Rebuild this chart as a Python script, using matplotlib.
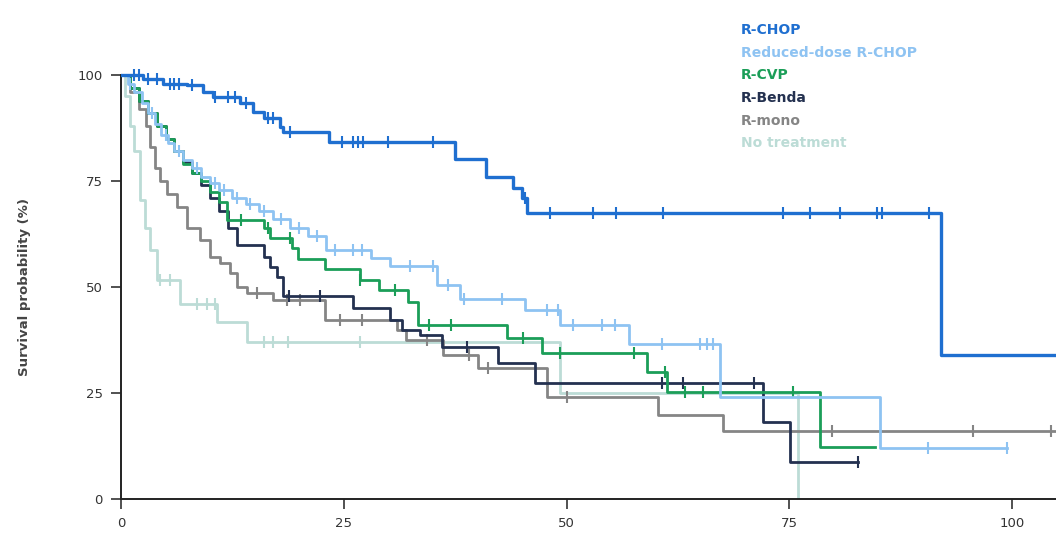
import numpy as np
import matplotlib
matplotlib.use("Agg")
import matplotlib.pyplot as plt

# group names and colours
groups = ["R-CHOP", "Reduced-dose R-CHOP", "R-CVP", "R-Benda", "R-mono", "No treatment"]
colors = ["#1f6fd0", "#8ec3f2", "#1b9e58", "#243150", "#858585", "#bcdcd6"]

# step times (months) and survival (%)
rchop_t = [0, 2.5, 4.7, 7.4, 9.2, 10.3, 13.4, 14.8, 16.0, 17.8, 18.2, 23.3, 37.5, 40.9, 44.0, 45.0, 45.6, 92.0]
rchop_s = [100, 99, 98, 97.6, 96, 94.8, 93.4, 91.3, 89.8, 87.7, 86.6, 84.2, 80.2, 76, 73.3, 71, 67.4, 34]
rchop_end = 105
rchop_cens = [1.5, 2.0, 3.0, 4.0, 5.5, 6.0, 6.5, 8.0, 10.5, 12.0, 12.8, 14.0, 16.5, 17.0, 19.0,
              24.8, 26.0, 26.6, 27.2, 30.0, 35.0, 45.3, 48.1, 52.9, 55.5, 60.8,
              74.3, 77.3, 80.7, 84.8, 85.4, 90.6]

rd_t = [0, 0.8, 1.5, 2.3, 3.0, 3.8, 4.5, 5.3, 6.0, 7.0, 8.0, 9.0, 10.0, 11.0, 12.5, 14.0, 15.5,
        17.0, 19.0, 21.0, 23.0, 28.0, 30.2, 35.5, 38.0, 45.3, 49.2, 57.0, 67.2, 85.2]
rd_s = [100, 98, 96, 93.5, 91, 88.5, 86, 84, 82, 80, 78, 76, 74.5, 73, 71, 69.5, 68,
        66, 64, 62, 58.7, 56.8, 55, 50.5, 47.2, 44.6, 41, 36.6, 24, 12]
rd_end = 99.4
rd_cens = [1, 3.5, 5, 6.5, 8.5, 10.5, 11.5, 13, 14.5, 16, 18, 20, 22, 24, 26, 27, 32.4, 35,
           36.7, 38.5, 42.8, 47.8, 49, 50.7, 54, 55.4, 60.7, 65, 65.8, 66.4, 90.5, 99.4]

cvp_t = [0, 1, 2, 3, 4, 5, 6, 7, 8, 9, 10, 11, 11.9, 16, 16.7, 19.2, 19.9, 22.9, 26.8, 29,
         32.2, 33.3, 43.3, 47.2, 59, 61.3, 78.4]
cvp_s = [100, 97, 94, 91, 88, 85, 82, 79, 77, 75, 72.5, 70, 65.8, 63.9, 61.6, 59.2, 56.6, 54.2,
         51.7, 49.3, 46.5, 41, 38, 34.4, 30, 25.2, 12.3]
cvp_end = 84.6
cvp_cens = [13.5, 16.5, 19.0, 26.8, 30.7, 34.5, 37.0, 45.1, 49.3, 57.5, 61.0, 63.3, 65.3, 75.4]

benda_t = [0, 1, 2, 3, 4, 5, 6, 7, 8, 9, 10, 11, 12, 13, 16, 16.7, 17.5, 18.2, 26, 30.2, 31.5,
           33.5, 36, 42.3, 46.5, 72, 75.1]
benda_s = [100, 97, 94, 91, 88, 85, 82, 79.5, 77, 74, 71, 68, 64, 60, 57, 54.7, 52.4, 48, 45,
           42.2, 39.9, 38.7, 35.8, 32, 27.3, 18.2, 8.7]
benda_end = 82.7
benda_cens = [18.8, 22.3, 38.8, 60.7, 63.0, 71.0, 82.7]

mono_t = [0, 1, 2, 2.8, 3.3, 3.8, 4.4, 5.2, 6.3, 7.4, 8.9, 10.0, 11.1, 12.2, 13.0, 14.1, 17.0,
          22.9, 31.0, 32.0, 36.1, 40.0, 47.8, 60.3, 67.5]
mono_s = [100, 96, 92, 88, 83, 78, 75, 72, 69, 64, 61, 57, 55.7, 53.3, 50, 48.6, 47, 42.2,
          39.9, 37.5, 34, 30.9, 24, 19.8, 16]
mono_end = 105
mono_cens = [15.3, 18.6, 20.1, 24.6, 27.0, 34.3, 39.0, 41.2, 50.0, 79.8, 95.6, 104.3]

none_t = [0, 0.5, 1.0, 1.5, 2.1, 2.7, 3.3, 4.0, 6.6, 10.8, 14.1, 49.3, 75.9]
none_s = [100, 95, 88, 82, 70.5, 64, 58.7, 51.7, 46, 41.7, 37, 25, 0]
none_end = 75.9
none_cens = [4.4, 5.5, 8.5, 9.7, 10.5, 16.0, 17.0, 18.7, 26.8]

curves = [
    (rchop_t, rchop_s, rchop_end, rchop_cens),
    (rd_t, rd_s, rd_end, rd_cens),
    (cvp_t, cvp_s, cvp_end, cvp_cens),
    (benda_t, benda_s, benda_end, benda_cens),
    (mono_t, mono_s, mono_end, mono_cens),
    (none_t, none_s, none_end, none_cens),
]

fig = plt.figure(figsize=(10.56, 5.43), dpi=100)
ax = fig.add_axes([121 / 1056, 44 / 543, 1 - 121 / 1056, 445 / 543])

# draw back to front so R-CHOP sits on top
order = [5, 4, 3, 2, 1, 0]
for i in order:
    t, s, end, cens = curves[i]
    tt = list(t) + [end]
    ss = list(s) + [s[-1]]
    lw = 2.4 if i == 0 else 2.0
    ax.step(tt, ss, where="post", color=colors[i], lw=lw, zorder=2 + (5 - i))
    idx = np.searchsorted(np.array(t), np.array(cens), side="right") - 1
    cy = np.array(s)[idx]
    ax.plot(cens, cy, ls="none", marker="|", ms=8, mew=1.5, color=colors[i], zorder=2 + (5 - i))

ax.set_xlim(0, 104.9)
ax.set_ylim(0, 105)
ax.set_xticks([0, 25, 50, 75, 100])
ax.set_yticks([0, 25, 50, 75, 100])
ax.tick_params(direction="out", length=7, width=1.2, colors="#333333", labelsize=9.5, pad=6)
for sp in ["top", "right"]:
    ax.spines[sp].set_visible(False)
ax.spines["left"].set_bounds(0, 100)
ax.spines["left"].set_linewidth(1.4)
ax.spines["bottom"].set_linewidth(1.4)
ax.spines["left"].set_color("#222222")
ax.spines["bottom"].set_color("#222222")

fig.text(25 / 1056, 1 - 287 / 543, "Survival probability (%)", rotation=90, ha="center", va="center",
         fontsize=9.5, fontweight="bold", color="#444444")

# legend as coloured text at the top right
for k, name in enumerate(groups):
    fig.text(741 / 1056, 1 - (30 + k * 22.7) / 543, name, color=colors[k], fontsize=10,
             fontweight="bold", ha="left", va="center")

fig.savefig("out.png", dpi=100)
